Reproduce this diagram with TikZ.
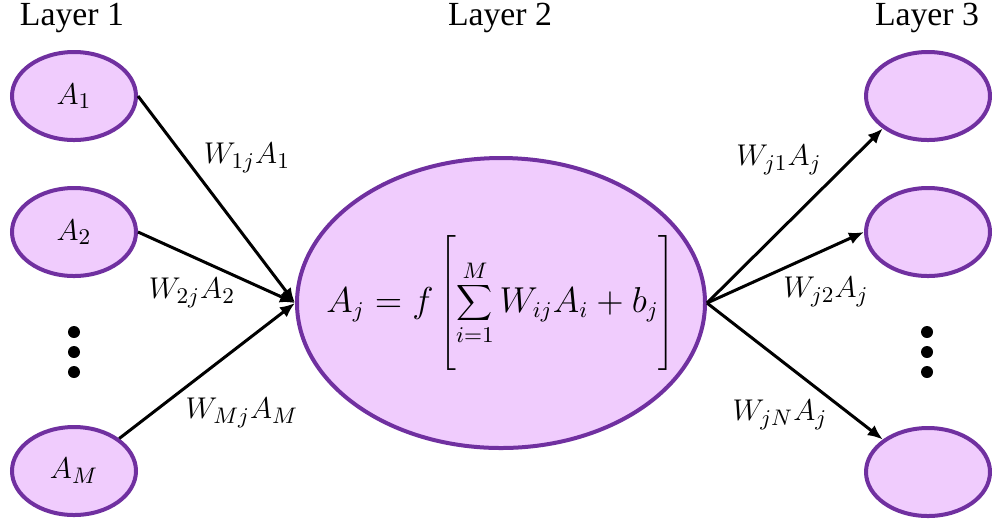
\documentclass[tikz,border=0pt]{standalone}
\usepackage{fontspec}
\setmainfont{Liberation Serif}
\usetikzlibrary{shapes.geometric,arrows.meta}
\definecolor{nfill}{HTML}{F0CCFD}
\definecolor{nline}{HTML}{7030A0}
\tikzset{
  neuron/.style={ellipse,draw=nline,fill=nfill,line width=1.6pt,inner sep=0pt,
    minimum width=49.6pt,minimum height=35.2pt,font=\fontsize{12.5}{15}\selectfont},
  big/.style={ellipse,draw=nline,fill=nfill,line width=1.6pt,inner sep=0pt,
    minimum width=163.2pt,minimum height=116pt},
  conn/.style={line width=1.2pt,-{Latex[length=6pt,width=5pt]}},
  wlabel/.style={font=\fontsize{13}{15}\selectfont,inner sep=0pt},
  eq/.style={font=\fontsize{13.5}{16}\selectfont,inner sep=0pt},
  layer/.style={font=\fontsize{13.5}{16}\selectfont,inner sep=0pt},
  vdot/.style={circle,fill=black,inner sep=0pt,minimum size=4.8pt}
}
\begin{document}
\begin{tikzpicture}[x=0.4pt,y=-0.4pt]
\useasboundingbox (0,0) rectangle (992,523);
\node[layer] (l1) at (72,18) {Layer 1};
\node[layer] (l2) at (500,18) {Layer 2};
\node[layer] (l3) at (927,18) {Layer 3};

\node[neuron] (a1) at (74,96) {$A_1$};
\node[neuron] (a2) at (74,232) {$A_2$};
\node[neuron] (am) at (74,471) {$A_M$};
\node[vdot] (ld1) at (74,332) {};
\node[vdot] (ld2) at (74,352) {};
\node[vdot] (ld3) at (74,372) {};

\node[big] (c) at (501,303) {};
\node[eq] (ceq) at (c.center) {$\displaystyle A_j = f\left[\vrule height 23pt depth 23pt width 0pt\sum_{i=1}^{M} W_{ij}A_i + b_j\right]$};

\node[neuron] (r1) at (928,96) {};
\node[neuron] (r2) at (928,232) {};
\node[neuron] (r3) at (928,472) {};
\node[vdot] (rd1) at (927,332) {};
\node[vdot] (rd2) at (927,352) {};
\node[vdot] (rd3) at (927,372) {};

\draw[conn] (a1.east) -- (c.west);
\draw[conn] (a2.east) -- (c.west);
\draw[conn] (am.north east) -- (c.west);
\draw[conn] (c.east) -- (r1.south west);
\draw[conn] (c.east) -- (r2.west);
\draw[conn] (c.east) -- (r3.north west);

\node[wlabel] (w1) at (247,158) {$W_{1j}A_1$};
\node[wlabel] (w2) at (192,293) {$W_{2j}A_2$};
\node[wlabel] (wm) at (242,413) {$W_{Mj}A_M$};
\node[wlabel] (v1) at (779,160) {$W_{j1}A_j$};
\node[wlabel] (v2) at (826,292) {$W_{j2}A_j$};
\node[wlabel] (vn) at (780,415) {$W_{jN}A_j$};
\end{tikzpicture}
\end{document}
